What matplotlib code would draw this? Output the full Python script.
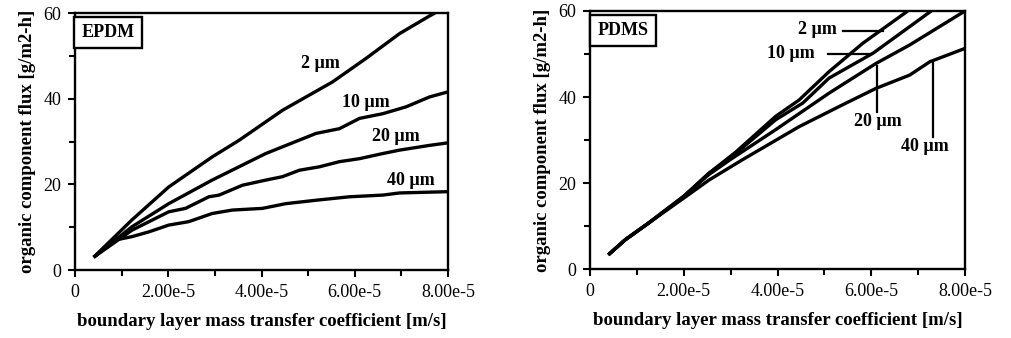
import matplotlib
matplotlib.use("Agg")
import matplotlib.pyplot as plt
from matplotlib.ticker import MultipleLocator, FixedLocator

plt.rcParams['font.family'] = ['Liberation Serif', 'DejaVu Serif']

# EPDM panel data (x in m/s, y in g/m2-h)
epdm_2_x = [0.4e-5, 1.22e-5, 2.01e-5, 2.94e-5, 3.52e-5, 4.45e-5, 5.52e-5, 6.24e-5, 6.96e-5, 7.6e-5, 7.72e-5]
epdm_2_y = [3.0, 11.7, 19.4, 26.4, 30.3, 37.3, 43.9, 49.4, 55.2, 59.3, 60.0]
epdm_10_x = [0.4e-5, 1.22e-5, 2.01e-5, 2.94e-5, 4.09e-5, 5.17e-5, 5.67e-5, 6.1e-5, 6.6e-5, 7.1e-5, 7.6e-5, 8.0e-5]
epdm_10_y = [3.0, 10.1, 15.5, 21.0, 27.2, 31.9, 33.0, 35.4, 36.5, 38.1, 40.4, 41.6]
epdm_20_x = [0.4e-5, 1.22e-5, 2.01e-5, 2.37e-5, 2.87e-5, 3.09e-5, 3.59e-5, 4.09e-5, 4.45e-5, 4.81e-5,
             5.24e-5, 5.67e-5, 6.1e-5, 6.6e-5, 6.96e-5, 7.6e-5, 8.0e-5]
epdm_20_y = [3.0, 9.3, 13.6, 14.4, 17.1, 17.5, 19.8, 21.0, 21.8, 23.3, 24.1, 25.3, 26.0, 27.2, 28.0, 29.1, 29.7]
epdm_40_x = [0.4e-5, 0.86e-5, 1.22e-5, 1.58e-5, 2.01e-5, 2.44e-5, 2.94e-5, 3.37e-5, 4.02e-5, 4.52e-5,
             5.17e-5, 5.88e-5, 6.6e-5, 6.96e-5, 8.0e-5]
epdm_40_y = [3.0, 7.0, 7.8, 8.9, 10.5, 11.3, 13.2, 14.0, 14.4, 15.5, 16.3, 17.1, 17.5, 18.0, 18.3]

# PDMS panel data
pdms_2_x = [0.39e-5, 0.75e-5, 1.25e-5, 2.0e-5, 2.54e-5, 3.11e-5, 3.96e-5, 4.46e-5, 5.1e-5, 5.82e-5, 6.78e-5]
pdms_2_y = [3.3, 6.8, 10.7, 16.9, 22.3, 27.2, 35.5, 39.3, 45.9, 52.5, 60.0]
pdms_10_x = [0.39e-5, 0.75e-5, 1.25e-5, 2.0e-5, 2.54e-5, 3.11e-5, 3.96e-5, 4.54e-5, 5.1e-5, 6.04e-5, 7.28e-5]
pdms_10_y = [3.3, 6.8, 10.7, 16.9, 22.3, 26.9, 34.7, 38.6, 44.4, 50.2, 60.0]
pdms_20_x = [0.39e-5, 0.75e-5, 1.25e-5, 2.0e-5, 2.54e-5, 3.0e-5, 3.96e-5, 5.1e-5, 6.1e-5, 6.82e-5, 8.0e-5]
pdms_20_y = [3.3, 6.8, 10.7, 16.9, 22.0, 25.5, 32.4, 40.9, 47.8, 52.1, 60.0]
pdms_40_x = [0.39e-5, 0.75e-5, 1.25e-5, 2.0e-5, 2.54e-5, 3.25e-5, 4.46e-5, 5.39e-5, 6.1e-5, 6.82e-5, 7.25e-5, 8.0e-5]
pdms_40_y = [3.3, 6.8, 10.7, 16.5, 20.7, 25.4, 33.1, 38.2, 42.0, 45.1, 48.2, 51.3]

thickness_labels = ["2 \u00b5m", "10 \u00b5m", "20 \u00b5m", "40 \u00b5m"]
x_ticks = [0, 2e-5, 4e-5, 6e-5, 8e-5]
x_ticklabels = ["0", "2.00e-5", "4.00e-5", "6.00e-5", "8.00e-5"]
y_ticks = [0, 20, 40, 60]
xlabel = "boundary layer mass transfer coefficient [m/s]"
ylabel = "organic component flux [g/m2-h]"

fig = plt.figure(figsize=(10.11, 3.38), dpi=100)
ax1 = fig.add_axes([0.0742, 0.201, 0.3690, 0.7605])
ax2 = fig.add_axes([0.5836, 0.204, 0.3709, 0.7635])

LW = 2.4
LABFS = 13
TICKFS = 13
AXFS = 13.5

def style(ax, name):
    ax.set_xlim(0, 8e-5)
    ax.set_ylim(0, 60)
    ax.xaxis.set_major_locator(FixedLocator(x_ticks))
    ax.set_xticklabels(x_ticklabels)
    ax.xaxis.set_minor_locator(MultipleLocator(1e-5))
    ax.yaxis.set_major_locator(FixedLocator(y_ticks))
    ax.yaxis.set_minor_locator(MultipleLocator(10))
    for s in ax.spines.values():
        s.set_linewidth(1.7)
    ax.tick_params(which='major', direction='out', length=5, width=1.5, labelsize=TICKFS, pad=5)
    ax.tick_params(which='minor', direction='out', length=4, width=1.5)
    ax.set_xlabel(xlabel, fontsize=AXFS, fontweight='bold', labelpad=9)
    ax.set_ylabel(ylabel, fontsize=AXFS, fontweight='bold', labelpad=5)
    ax.text(0.088, 0.925, name, transform=ax.transAxes, fontsize=LABFS, fontweight='bold',
            ha='center', va='center',
            bbox=dict(boxstyle='square,pad=0.4', fc='white', ec='black', lw=1.7))

# EPDM
for xs, ys in [(epdm_2_x, epdm_2_y), (epdm_10_x, epdm_10_y), (epdm_20_x, epdm_20_y), (epdm_40_x, epdm_40_y)]:
    ax1.plot(xs, ys, color='black', lw=LW, solid_capstyle='butt')
style(ax1, "EPDM")
epdm_label_pos = [(5.27e-5, 48.2), (6.24e-5, 39.2), (6.89e-5, 31.1), (7.21e-5, 21.0)]
for lab, (x, y) in zip(thickness_labels, epdm_label_pos):
    ax1.text(x, y, lab, fontsize=LABFS, fontweight='bold', ha='center', va='center')

# PDMS
for xs, ys in [(pdms_2_x, pdms_2_y), (pdms_10_x, pdms_10_y), (pdms_20_x, pdms_20_y), (pdms_40_x, pdms_40_y)]:
    ax2.plot(xs, ys, color='black', lw=LW, solid_capstyle='butt')
style(ax2, "PDMS")
# labels with leader lines
ax2.text(4.86e-5, 55.6, thickness_labels[0], fontsize=LABFS, fontweight='bold', ha='center', va='center')
ax2.plot([5.39e-5, 6.25e-5], [55.4, 55.4], color='black', lw=1.6)
ax2.text(4.29e-5, 50.2, thickness_labels[1], fontsize=LABFS, fontweight='bold', ha='center', va='center')
ax2.plot([5.07e-5, 6.0e-5], [50.0, 50.0], color='black', lw=1.6)
ax2.text(6.14e-5, 34.3, thickness_labels[2], fontsize=LABFS, fontweight='bold', ha='center', va='center')
ax2.plot([6.13e-5, 6.13e-5], [36.6, 47.2], color='black', lw=1.6)
ax2.text(7.14e-5, 28.5, thickness_labels[3], fontsize=LABFS, fontweight='bold', ha='center', va='center')
ax2.plot([7.32e-5, 7.32e-5], [30.8, 48.2], color='black', lw=1.6)

fig.savefig("out.png", dpi=100)
